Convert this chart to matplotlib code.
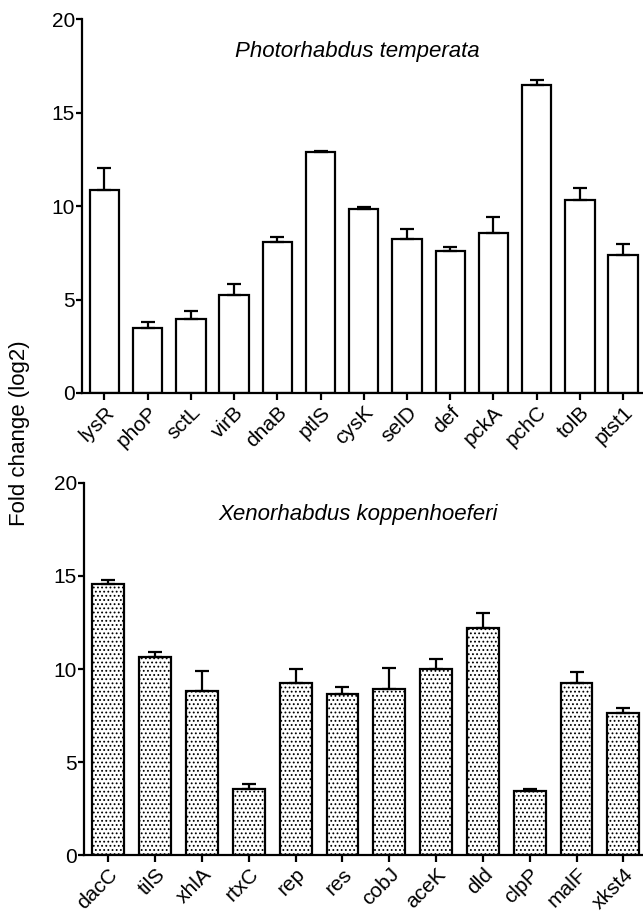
import numpy as np
import matplotlib.pyplot as plt

plt.rcParams['font.family'] = ['Liberation Sans', 'DejaVu Sans']
plt.rcParams['hatch.color'] = '#777777'
plt.rcParams['hatch.linewidth'] = 0.8

# Photorhabdus temperata
pt_genes = ["lysR", "phoP", "sctL", "virB", "dnaB", "ptlS", "cysK",
            "selD", "def", "pckA", "pchC", "tolB", "ptst1"]
pt_mean = [10.87, 3.49, 3.96, 5.22, 8.06, 12.90, 9.82, 8.22, 7.58, 8.54, 16.47, 10.34, 7.40]
pt_err = [1.16, 0.29, 0.44, 0.59, 0.26, 0.06, 0.11, 0.53, 0.25, 0.85, 0.30, 0.62, 0.57]

# Xenorhabdus koppenhoeferi
xk_genes = ["dacC", "tilS", "xhlA", "rtxC", "rep", "res", "cobJ",
            "aceK", "dld", "clpP", "malF", "xkst4"]
xk_mean = [14.59, 10.64, 8.84, 3.54, 9.23, 8.68, 8.95, 9.98, 12.23, 3.45, 9.27, 7.64]
xk_err = [0.21, 0.25, 1.04, 0.28, 0.79, 0.37, 1.10, 0.57, 0.77, 0.12, 0.59, 0.29]

fig = plt.figure(figsize=(6.43, 9.13), dpi=100)
ax1 = fig.add_axes([0.1275, 0.5696, 0.8725, 0.4094])
ax2 = fig.add_axes([0.1306, 0.0635, 0.8694, 0.4075])


def panel(ax, genes, mean, err, title, hatch, xmax):
    x = np.arange(len(genes))
    ax.bar(x, mean, width=0.68, color='white', edgecolor='black',
           linewidth=1.6, hatch=hatch, zorder=2)
    ax.errorbar(x, mean, yerr=[np.zeros(len(mean)), err], fmt='none',
                ecolor='black', elinewidth=1.6, capsize=5, capthick=1.6, zorder=3)
    ax.set_xlim(-0.52, xmax)
    ax.set_ylim(0, 20)
    ax.set_yticks([0, 5, 10, 15, 20])
    ax.set_xticks(x)
    ax.set_xticklabels(genes, rotation=45, ha='right', rotation_mode='anchor')
    for s in ['top', 'right']:
        ax.spines[s].set_visible(False)
    for s in ['left', 'bottom']:
        ax.spines[s].set_linewidth(1.6)
    ax.tick_params(axis='y', length=4, width=1.6, labelsize=15, pad=1)
    ax.tick_params(axis='x', length=5, width=1.6, labelsize=15, pad=2)
    ax.text(0.49, 0.914, title, transform=ax.transAxes, ha='center',
            va='center', fontsize=16, style='italic')


panel(ax1, pt_genes, pt_mean, pt_err, "Photorhabdus temperata", None, 12.46)
panel(ax2, xk_genes, xk_mean, xk_err, "Xenorhabdus koppenhoeferi", '....', 11.42)

fig.text(0.03, 0.526, "Fold change (log2)", rotation=90, ha='center',
         va='center', fontsize=16)

fig.savefig("out.png", dpi=100)
